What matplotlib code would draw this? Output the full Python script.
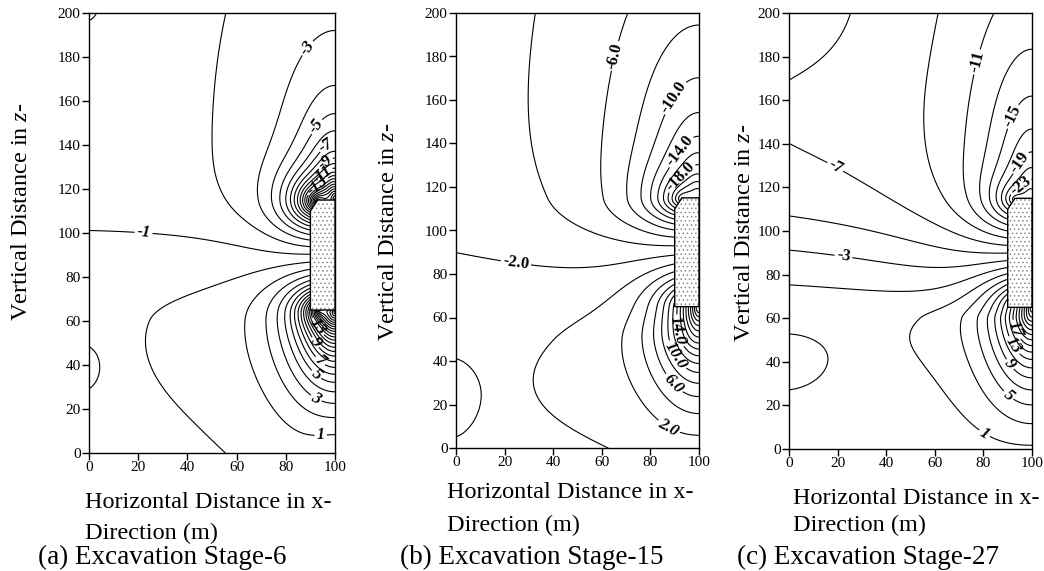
import numpy as np
import matplotlib
matplotlib.use("Agg")
import matplotlib.pyplot as plt
from matplotlib.path import Path
from matplotlib.patches import Polygon

plt.rcParams["font.family"] = ["Liberation Serif", "DejaVu Serif"]
plt.rcParams["mathtext.fontset"] = "custom"
plt.rcParams["mathtext.rm"] = "Liberation Serif"
plt.rcParams["mathtext.it"] = "Liberation Serif:italic"
plt.rcParams["hatch.linewidth"] = 0.6
plt.rcParams["contour.negative_linestyle"] = "solid"

W, H = 1044, 571

# ---------------- data ----------------
x_ticks = [0, 20, 40, 60, 80, 100]
z_ticks = [0, 20, 40, 60, 80, 100, 120, 140, 160, 180, 200]

block_x = [90, 90, 93, 100, 100]
block_z = [65, 110, 115, 115, 65]

captions = ["(a) Excavation Stage-6", "(b) Excavation Stage-15", "(c) Excavation Stage-27"]
xlabel_lines = ["Horizontal Distance in x-", "Direction (m)"]
ylabel_text = "Vertical Distance in $z$-"

levels_a = np.arange(-27, 26, 1)
levels_b = np.arange(-34, 32, 2)
levels_c = np.arange(-35, 32, 2)

# labelled contours: level and approximate position (x, z)
lab_a_level = [-1, -3, -5, -7, -9, -11, -13, 1, 3, 5, 7, 9, 13]
lab_a_x = [22, 90, 93, 97, 96, 94, 92, 94, 94.6, 94.6, 96, 93, 95]
lab_a_z = [97, 183, 148, 139, 132, 127, 123, 12.7, 29.5, 38.6, 44.5, 51, 59]

lab_b_level = [-2, -6, -10, -14, -18, 2, 6, 10, 14]
lab_b_x = [25, 64.8, 91.5, 93.5, 92.2, 88.8, 90.8, 94.2, 92.2]
lab_b_z = [88, 180.4, 160, 135.5, 124.7, 12.1, 31, 45, 54]

lab_c_level = [-3, -7, -11, -15, -19, -23, 1, 5, 9, 13, 17]
lab_c_x = [22.4, 22.4, 79.3, 93.7, 95.8, 94.4, 80, 91, 92.3, 95, 96.4]
lab_c_z = [88.3, 136.4, 177, 151.7, 131, 121.9, 6.4, 25.5, 40, 49.2, 56]

# field model parameters (background: b0, b1, zc, w)
bg_a = [-1.0, -0.5, 100, 15]
bg_b = [-1.2, -0.85, 89, 40]
bg_c = [-2.8, -2.9, 97, 25]

# kind, amp, x0, z0, ax, kup, kdn, scale
terms_a = [
    ("pow2", -15.3, 100, 115.5, 3.0, 1.0, 4.0, 35.0),
    ("exp", -14.0, 93, 114.5, 1.0, 1.0, 1.0, 8.0),
    ("exp", 21.6, 100, 64, 2.0, 2.5, 1.0, 21.0),
    ("exp", 1.75, 100, 60, 0.8, 2.5, 1.2, 60.0),
    ("exp", 8.0, 94, 64.5, 1.0, 1.0, 1.0, 5.0),
    ("exp", -1.9, 100, -10, 2.0, 1.0, 1.0, 15.0),
]
terms_b = [
    ("pow2", -19.2, 100, 115, 2.9, 1.0, 6.0, 100.0),
    ("exp", -12.0, 93, 114.5, 1.0, 1.0, 1.0, 9.0),
    ("exp", 34.0, 100, 65, 2.2, 2.5, 1.0, 23.0),
    ("exp", 3.1, 100, 50, 0.9, 2.5, 1.5, 55.0),
    ("exp", -2.2, 100, -10, 0.7, 1.0, 1.0, 16.0),
]
terms_c = [
    ("pow2", -18.0, 100, 115, 3.5, 1.0, 4.0, 120.0),
    ("exp", -10.0, 93, 114.5, 1.0, 1.0, 1.0, 8.0),
    ("exp", 33.6, 100, 65, 2.2, 2.5, 1.0, 24.0),
    ("exp", 3.8, 100, 60, 0.5, 4.0, 1.5, 50.0),
    ("exp", -3.0, 100, -10, 0.7, 1.0, 1.0, 15.0),
]
# amp, x0, z0, sx, sz
bumps_a = [(0.35, -4, 38, 6, 9), (-0.9, -2, 203, 4, 5)]
bumps_b = [(0.6, -4, 26, 10, 18)]
bumps_c = [(1.25, -3, 39, 14, 11), (1.2, -10, 212, 25, 25), (-0.5, -5, 158, 30, 20)]


def field(X, Z, bg, terms, bumps):
    b0, b1, zc, w = bg
    F = b0 + b1 * np.tanh((Z - zc) / w)
    for kind, amp, x0, z0, ax_, kup, kdn, s in terms:
        dz = Z - z0
        dz = np.where(dz > 0, dz * kup, dz * kdn)
        r = np.hypot(ax_ * (X - x0), dz)
        if kind == "pow2":
            F = F + amp / (1 + r / s) ** 2
        else:
            F = F + amp * np.exp(-r / s)
    for amp, x0, z0, sx, sz in bumps:
        F = F + amp * np.exp(-0.5 * (((X - x0) / sx) ** 2 + ((Z - z0) / sz) ** 2))
    return F


def label_at(cs, level, x, z, fmt):
    """Put one inline label on the contour of `level` nearest to (x, z)."""
    levels = list(cs.levels)
    idx = int(np.argmin(np.abs(np.array(levels) - level)))
    cs.clabel(levels=[levels[idx]], manual=[], inline=True, inline_spacing=2,
              fmt=fmt, fontsize=12)
    n = len(levels)
    cs.labelLevelList = [levels[idx]] * n
    cs.labelCValueList = [cs.cvalues[idx]] * n
    cs.labelIndiceList = [idx]
    cs.add_label_near(x, z, inline=True, inline_spacing=2)


xg = np.linspace(0, 100, 401)
zg = np.linspace(0, 200, 801)
X, Z = np.meshgrid(xg, zg)
block_path = Path(np.column_stack([block_x, block_z]))
inside = block_path.contains_points(np.column_stack([X.ravel(), Z.ravel()]), radius=0.5).reshape(X.shape)

panels = [
    dict(rect_px=(89, 13, 335, 453), bg=bg_a, terms=terms_a, bumps=bumps_a, levels=levels_a,
         lab=(lab_a_level, lab_a_x, lab_a_z), fmt="%d", ital_up=True,
         ylab=(22, 212), xl1=(85, 502), xl2=(85, 533), cap=(38, 557)),
    dict(rect_px=(456, 13, 699, 448), bg=bg_b, terms=terms_b, bumps=bumps_b, levels=levels_b,
         lab=(lab_b_level, lab_b_x, lab_b_z), fmt="%.1f", ital_up=False,
         ylab=(389, 232), xl1=(447, 493), xl2=(447, 525), cap=(400, 557)),
    dict(rect_px=(789, 13, 1032, 449), bg=bg_c, terms=terms_c, bumps=bumps_c, levels=levels_c,
         lab=(lab_c_level, lab_c_x, lab_c_z), fmt="%d", ital_up=False,
         ylab=(744, 233), xl1=(793, 498), xl2=(793, 525), cap=(737, 557)),
]

fig = plt.figure(figsize=(W / 100, H / 100), dpi=100)

for i, p in enumerate(panels):
    x0p, y0p, x1p, y1p = p["rect_px"]
    ax = fig.add_axes([x0p / W, 1 - y1p / H, (x1p - x0p) / W, (y1p - y0p) / H])
    ax.set_xlim(0, 100)
    ax.set_ylim(0, 200)
    F = field(X, Z, p["bg"], p["terms"], p["bumps"])
    F = np.ma.array(F, mask=inside)
    cs = ax.contour(X, Z, F, levels=p["levels"], colors="k", linewidths=0.8)
    lv, lx, lz = p["lab"]
    for L, xx, zz in zip(lv, lx, lz):
        try:
            label_at(cs, L, xx, zz, p["fmt"])
        except Exception:
            pass
    for t in cs.labelTexts:
        t.set_fontweight("bold")
        try:
            val = float(t.get_text())
        except ValueError:
            val = 0
        if val > 0 or p["ital_up"]:
            t.set_fontstyle("italic")
    ax.add_patch(Polygon(np.column_stack([block_x, block_z]), closed=True,
                         facecolor="white", edgecolor="#8a8a8a", hatch="....",
                         linewidth=0, zorder=5))
    ax.add_patch(Polygon(np.column_stack([block_x, block_z]), closed=True,
                         facecolor="none", edgecolor="k", linewidth=1.0, zorder=6))
    ax.set_xticks(x_ticks)
    ax.set_yticks(z_ticks)
    ax.tick_params(direction="out", length=5, width=1, labelsize=11, pad=1,
                   top=False, right=False)
    for s in ax.spines.values():
        s.set_linewidth(1.0)
    fig.text(p["ylab"][0] / W, 1 - p["ylab"][1] / H, ylabel_text, rotation=90,
             ha="center", va="center", fontsize=17.5)
    fig.text(p["xl1"][0] / W, 1 - p["xl1"][1] / H, xlabel_lines[0],
             ha="left", va="center", fontsize=17.5)
    fig.text(p["xl2"][0] / W, 1 - p["xl2"][1] / H, xlabel_lines[1],
             ha="left", va="center", fontsize=17.5)
    fig.text(p["cap"][0] / W, 1 - p["cap"][1] / H, captions[i],
             ha="left", va="center", fontsize=19.5)

fig.savefig("out.png", dpi=100)
